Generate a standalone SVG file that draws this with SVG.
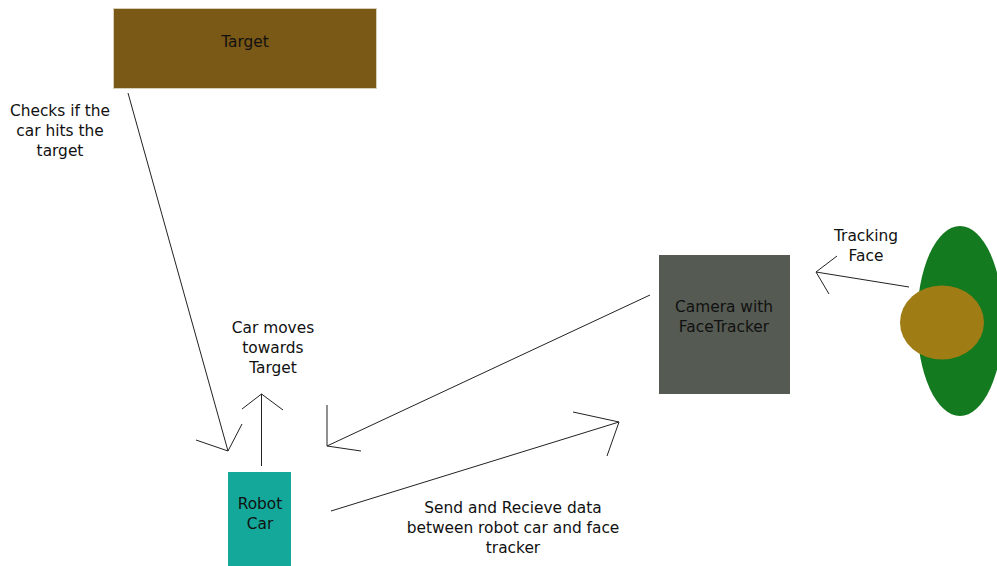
<svg xmlns="http://www.w3.org/2000/svg" width="997" height="566" viewBox="0 0 997 566">
<style>
text{font-family:"DejaVu Sans",sans-serif;font-size:15.4px;fill:#111;text-anchor:middle}
.c{fill:none;stroke:#222;stroke-width:1}
</style>
<rect width="997" height="566" fill="#fff"/>
<g id="target"><rect x="113.5" y="8.5" width="263" height="80" fill="#7a5816" stroke="#d8cfb8" stroke-width="1"/><text x="245" y="47">Target</text></g>
<g id="camera"><rect x="659" y="255" width="131" height="139" fill="#555a52"/><text x="724" y="312">Camera with</text><text x="724" y="332">FaceTracker</text></g>
<g id="robot"><rect x="228" y="472" width="63" height="94" fill="#14a89a"/><text x="260" y="509">Robot</text><text x="260" y="529">Car</text></g>
<g id="face"><ellipse cx="960" cy="321" rx="43" ry="95" fill="#137a20"/><ellipse cx="942" cy="322.5" rx="42" ry="37" fill="#a07c14"/></g>
<g id="connectors">
<path class="c" d="M128 93 L228 451 M196 440 L228 451 L242 424"/>
<path class="c" d="M261.5 466 V394 M242 409 L261.5 394 L283 410"/>
<path class="c" d="M650 295 L327 446 M327 405 V446 L361 451"/>
<path class="c" d="M331 511 L619 422 M573 412 L619 422 L607 456"/>
<path class="c" d="M909 287 L816 272 M837 256 L816 272 L829 294"/>
</g>
<g id="labels">
<text x="60" y="116">Checks if the</text><text x="60" y="136">car hits the</text><text x="60" y="156">target</text>
<text x="273" y="333">Car moves</text><text x="273" y="353">towards</text><text x="273" y="373">Target</text>
<text x="513" y="513">Send and Recieve data</text><text x="513" y="533">between robot car and face</text><text x="513" y="553">tracker</text>
<text x="866" y="241">Tracking</text><text x="866" y="261">Face</text>
</g>
</svg>
